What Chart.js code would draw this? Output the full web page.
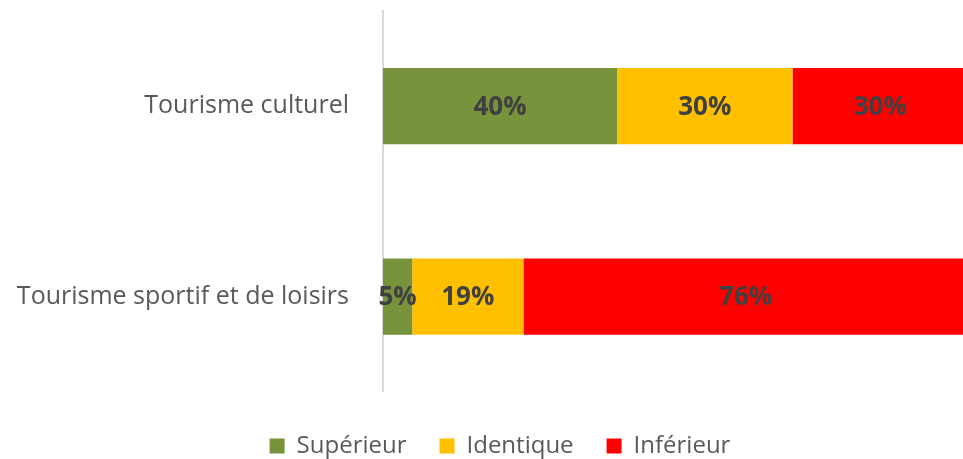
<!DOCTYPE html>
<html>
<head>
<meta charset="utf-8">
<script src="https://cdn.jsdelivr.net/npm/chart.js@4.4.1/dist/chart.umd.min.js"></script>
<style>
  html, body { margin: 0; padding: 0; background: #fff; overflow: hidden; }
  #wrap { width: 968px; height: 459px; }
</style>
</head>
<body>
<div id="wrap"><canvas id="chart"></canvas></div>
<script>
// Données
const categories = ['Tourisme culturel', 'Tourisme sportif et de loisirs'];
const superieur = [40, 5];
const identique = [30, 19];
const inferieur = [30, 76];
const seriesNames = ['Supérieur', 'Identique', 'Inférieur'];
const seriesColors = ['#77933c', '#ffc000', '#ff0000'];

const FONT = "'Open Sans', 'DejaVu Sans', sans-serif";

// étiquettes de valeurs au centre des segments
const barLabels = {
  id: 'barLabels',
  afterDatasetsDraw(chart) {
    const ctx = chart.ctx;
    ctx.save();
    ctx.font = 'bold 26px ' + FONT;
    ctx.fillStyle = '#404040';
    ctx.textAlign = 'center';
    ctx.textBaseline = 'middle';
    chart.data.datasets.forEach((ds, i) => {
      chart.getDatasetMeta(i).data.forEach((bar, j) => {
        const x = (bar.x + bar.base) / 2;
        ctx.fillText(ds.data[j] + '%', x, bar.y + 1);
      });
    });
    ctx.restore();
  }
};

// légende un peu décalée vers la droite, comme dans l'original
const legendShift = {
  id: 'legendShift',
  afterLayout(chart) {
    if (chart.legend) chart.legend.left = 32;
  }
};

const datasets = [superieur, identique, inferieur].map((d, i) => ({
  label: seriesNames[i],
  data: d,
  backgroundColor: seriesColors[i],
  borderWidth: 0,
  barPercentage: 0.4,
  categoryPercentage: 1
}));

new Chart(document.getElementById('chart'), {
  type: 'bar',
  data: { labels: categories, datasets: datasets },
  options: {
    indexAxis: 'y',
    responsive: true,
    maintainAspectRatio: false,
    animation: false,
    layout: { padding: { top: 11, left: 0, right: 0, bottom: -9 } },
    scales: {
      x: {
        stacked: true,
        min: 0,
        max: 100,
        display: false
      },
      y: {
        stacked: true,
        grid: { display: false, drawTicks: false },
        border: { display: true, color: '#d9d9d9', width: 2 },
        ticks: {
          color: '#595959',
          font: { family: FONT, size: 25 },
          padding: 34
        },
        afterFit(scale) {
          scale.width = 383;
          scale.paddingTop = 0;
          scale.paddingBottom = 0;
        }
      }
    },
    plugins: {
      legend: {
        position: 'bottom',
        title: { display: true, text: '', font: { size: 1 }, padding: { top: 4, bottom: 4 } },
        labels: {
          color: '#595959',
          font: { family: FONT, size: 24 },
          boxWidth: 15,
          boxHeight: 15,
          padding: 33
        }
      },
      tooltip: { enabled: false }
    }
  },
  plugins: [barLabels, legendShift]
});
</script>
</body>
</html>
